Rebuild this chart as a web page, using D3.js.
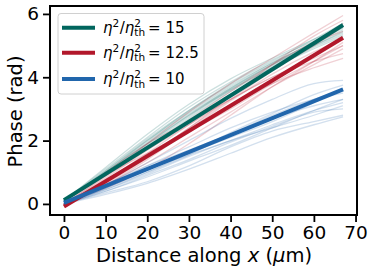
<!DOCTYPE html>
<html><head><meta charset="utf-8">
<script src="https://cdn.jsdelivr.net/npm/d3@7"></script>
<style>body{margin:0;background:#fff}text{font-family:"DejaVu Sans",sans-serif}</style>
</head><body><svg id="c" width="374" height="273"></svg>
<script>
const xPts = [0, 10, 20, 30, 40, 50, 60, 67];
const xTicks = [0, 10, 20, 30, 40, 50, 60, 70];
const yTicks = [0, 2, 4, 6];
const seriesNames = ["15", "12.5", "10"];
const seriesColors = ["#01665e", "#b2182b", "#2166ac"];
const thickX = [0, 67];
const thick15 = [0.12, 5.65];
const thick125 = [-0.08, 5.25];
const thick10 = [0.03, 3.62];
const thin15 = [
 [0.1,1.0,1.95,2.85,3.65,4.4,5.05,5.5],
 [0.1,1.05,2.05,2.95,3.75,4.45,5.1,5.55],
 [0.1,0.95,1.85,2.75,3.6,4.35,5.0,5.45],
 [0.1,1.1,2.1,3.05,3.85,4.55,5.15,5.6],
 [0.1,0.9,1.8,2.7,3.55,4.3,4.95,5.35],
 [0.1,1.0,2.0,2.9,3.7,4.45,5.1,5.65],
 [0.1,1.15,2.2,3.15,3.95,4.6,5.2,5.6],
 [0.1,0.95,1.9,2.8,3.6,4.3,4.9,5.3],
 [0.1,1.05,2.0,2.95,3.8,4.5,5.2,5.7],
 [0.1,1.0,1.9,2.8,3.65,4.4,5.0,5.4]
];
const thin125 = [
 [0.0,0.9,1.9,2.9,3.8,4.6,5.4,5.95],
 [0.0,0.7,1.5,2.4,3.3,4.2,5.0,5.6],
 [-0.05,0.6,1.3,2.1,2.9,3.7,4.4,4.9],
 [0.0,0.8,1.7,2.5,3.3,4.0,4.6,5.0],
 [0.05,1.0,1.9,2.6,3.3,4.0,4.5,4.75],
 [0.0,0.5,1.1,1.9,2.8,3.7,4.5,5.1],
 [0.0,0.75,1.6,2.5,3.4,4.3,5.1,5.7],
 [-0.05,0.6,1.4,2.3,3.1,3.8,4.3,4.6],
 [0.0,0.85,1.75,2.65,3.55,4.4,5.1,5.45],
 [0.0,0.65,1.45,2.35,3.25,4.1,4.8,5.2],
 [0.05,0.9,1.6,2.3,3.0,3.8,4.5,5.0],
 [0.0,0.7,1.5,2.4,3.4,4.4,5.3,5.8]
];
const thin10 = [
 [0.0,0.6,1.3,2.0,2.7,3.3,3.8,3.9],
 [0.0,0.5,1.1,1.6,2.1,2.6,3.2,3.65],
 [0.0,0.35,0.7,1.2,1.8,2.3,2.6,2.8],
 [0.0,0.55,1.2,1.8,2.4,2.9,3.3,3.5],
 [0.0,0.45,0.95,1.5,2.0,2.4,2.8,3.1],
 [0.0,0.4,0.85,1.35,1.85,2.4,2.95,3.3],
 [0.05,0.6,1.2,1.7,2.2,2.7,3.1,3.3],
 [0.0,0.5,1.0,1.55,2.2,2.8,3.3,3.6],
 [0.0,0.3,0.65,1.1,1.6,2.1,2.5,2.75],
 [0.0,0.55,1.1,1.55,2.0,2.5,2.95,3.2],
 [0.0,0.45,1.0,1.6,2.25,2.85,3.45,3.75],
 [0.0,0.4,0.9,1.4,1.95,2.45,2.9,3.0]
];

const svg = d3.select("#c");
const L = 50, T = 6, R = 357, B = 215;
const x = d3.scaleLinear().domain([-3.35, 70.35]).range([L, R]);
const y = d3.scaleLinear().domain([-0.35, 6.25]).range([B, T]);

svg.append("defs").append("clipPath").attr("id","pc").append("rect")
  .attr("x",L).attr("y",T).attr("width",R-L).attr("height",B-T);
const plot = svg.append("g").attr("clip-path","url(#pc)");
const line = d3.line().x(d=>x(d[0])).y(d=>y(d[1])).curve(d3.curveMonotoneX);

const thins = [thin15, thin125, thin10];
const thicks = [thick15, thick125, thick10];
thins.forEach((set, i) => {
  set.forEach(vals => {
    plot.append("path").attr("d", line(xPts.map((xv,j)=>[xv, vals[j]])))
      .attr("fill","none").attr("stroke", seriesColors[i]).attr("stroke-opacity",0.2).attr("stroke-width",1.3);
  });
});
thicks.forEach((vals, i) => {
  plot.append("path").attr("d", d3.line().x(d=>x(d[0])).y(d=>y(d[1]))(thickX.map((xv,j)=>[xv, vals[j]])))
    .attr("fill","none").attr("stroke", seriesColors[i]).attr("stroke-width",4).attr("stroke-linecap","butt");
});

const xa = svg.append("g").attr("transform",`translate(0,${B})`)
  .call(d3.axisBottom(x).tickValues(xTicks).tickSize(7).tickPadding(4).tickFormat(d3.format("d")));
const ya = svg.append("g").attr("transform",`translate(${L},0)`)
  .call(d3.axisLeft(y).tickValues(yTicks).tickSize(7).tickPadding(4).tickFormat(d3.format("d")));
[xa, ya].forEach(a => {
  a.select(".domain").remove();
  a.selectAll("line").attr("stroke","#000").attr("stroke-width",1.8);
  a.selectAll("text").attr("font-size",18.5).attr("fill","#000").attr("font-family","DejaVu Sans");
});
svg.append("rect").attr("x",L).attr("y",T).attr("width",R-L).attr("height",B-T)
  .attr("fill","none").attr("stroke","#000").attr("stroke-width",2);

svg.append("text").attr("x",(L+R)/2 + 0.5).attr("y",262).attr("text-anchor","middle").attr("font-size",19.5)
  .html('Distance along <tspan font-style="italic">x</tspan> (<tspan font-style="italic">μ</tspan>m)');
svg.append("text").attr("transform",`translate(22,${(T+B)/2 + 1}) rotate(-90)`).attr("text-anchor","middle").attr("font-size",19.5)
  .text("Phase (rad)");

const lg = svg.append("g");
lg.append("rect").attr("x",58).attr("y",13.5).attr("width",146).attr("height",80.5).attr("rx",3)
  .attr("fill","#fff").attr("fill-opacity",0.8).attr("stroke","#d0d0d0").attr("stroke-width",1);
const rowsY = [27.7, 52.8, 79];
seriesNames.forEach((nm, i) => {
  const cy = rowsY[i];
  lg.append("line").attr("x1",62).attr("x2",95).attr("y1",cy).attr("y2",cy)
    .attr("stroke",seriesColors[i]).attr("stroke-width",4);
  const by = cy + 5;
  let cx = 103;
  function piece(txt, size, dy, italic) {
    const t = lg.append("text").attr("x",cx).attr("y",by+dy).attr("font-size",size)
      .attr("font-style", italic ? "italic" : "normal").text(txt);
    return t.node().getComputedTextLength();
  }
  cx += piece("η", 15, 0, true);
  cx += piece("2", 10.5, -6, false) + 0.5;
  cx += piece("/", 15, 0, false);
  cx += piece("η", 15, 0, true);
  const w1 = piece("2", 10.5, -6, false);
  const w2 = piece("th", 10.5, 3.5, false);
  cx += Math.max(w1, w2) + 3;
  piece("= " + nm, 15, 0, false);
});
</script></body></html>
